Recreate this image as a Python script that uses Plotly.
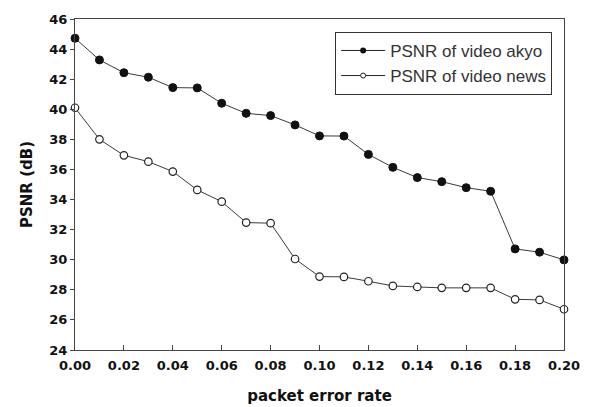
import plotly.graph_objects as go

per = [0.00, 0.01, 0.02, 0.03, 0.04, 0.05, 0.06, 0.07, 0.08, 0.09, 0.10,
       0.11, 0.12, 0.13, 0.14, 0.15, 0.16, 0.17, 0.18, 0.19, 0.20]
psnr_akyo = [44.72, 43.28, 42.43, 42.13, 41.44, 41.42, 40.4, 39.73, 39.58, 38.96, 38.23,
             38.22, 37.0, 36.14, 35.46, 35.19, 34.79, 34.55, 30.72, 30.5, 29.99]
psnr_news = [40.1, 38.0, 36.94, 36.52, 35.86, 34.64, 33.86, 32.47, 32.43, 30.05, 28.88,
             28.86, 28.57, 28.26, 28.19, 28.13, 28.13, 28.13, 27.37, 27.33, 26.71]
x_ticks = [0.00, 0.02, 0.04, 0.06, 0.08, 0.10, 0.12, 0.14, 0.16, 0.18, 0.20]
y_ticks = [24, 26, 28, 30, 32, 34, 36, 38, 40, 42, 44, 46]
names = ["PSNR of video akyo", "PSNR of video news"]

line_style = dict(color="#3a3a3a", width=1)
akyo_marker = dict(symbol="circle", size=8, color="#111111", line=dict(color="#111111", width=1))
news_marker = dict(symbol="circle", size=7.5, color="white", line=dict(color="#222222", width=1.2))

fig = go.Figure()
fig.add_trace(go.Scatter(x=per, y=psnr_akyo, mode="lines+markers", name=names[0],
                         line=line_style, marker=akyo_marker, cliponaxis=False, showlegend=False))
fig.add_trace(go.Scatter(x=per, y=psnr_news, mode="lines+markers", name=names[1],
                         line=line_style, marker=news_marker, cliponaxis=False, showlegend=False))
# legend entries with smaller symbols, as in the original legend
fig.add_trace(go.Scatter(x=[None], y=[None], mode="lines+markers", name=names[0],
                         line=dict(color="#222222", width=1),
                         marker=dict(symbol="circle", size=6, color="#111111")))
fig.add_trace(go.Scatter(x=[None], y=[None], mode="lines+markers", name=names[1],
                         line=dict(color="#222222", width=1),
                         marker=dict(symbol="circle", size=5, color="white",
                                     line=dict(color="#222222", width=1))))

titlefont = dict(family="DejaVu Sans", size=15, color="#111111", weight="bold")
tickfont = dict(family="DejaVu Sans", size=13, color="#111111", weight="bold")

fig.update_layout(
    width=581, height=399,
    margin=dict(l=67, r=25, t=11, b=57),
    paper_bgcolor="white", plot_bgcolor="white",
    showlegend=True,
    legend=dict(x=0.532, y=0.961, xanchor="left", yanchor="top",
                bordercolor="#333333", borderwidth=1, bgcolor="white",
                font=dict(family="Liberation Sans", size=17, color="#333333"),
                tracegroupgap=0, itemwidth=44),
    xaxis=dict(range=[0, 0.2], tickvals=x_ticks, tickformat=".2f", automargin=False,
               ticks="inside", ticklen=5, tickcolor="#444444",
               showline=True, linecolor="#444444", linewidth=1, mirror=True,
               showgrid=False, zeroline=False, tickfont=tickfont, ticklabelstandoff=3,
               title=dict(text="packet error rate", font=titlefont, standoff=18)),
    yaxis=dict(range=[24, 46], tickvals=y_ticks, automargin=False,
               ticks="outside", ticklen=4, tickcolor="#444444",
               showline=True, linecolor="#444444", linewidth=1, mirror=True,
               showgrid=False, zeroline=False, tickfont=tickfont,
               title=dict(text="PSNR (dB)", font=titlefont, standoff=13)),
)

fig.write_html("out.html")
